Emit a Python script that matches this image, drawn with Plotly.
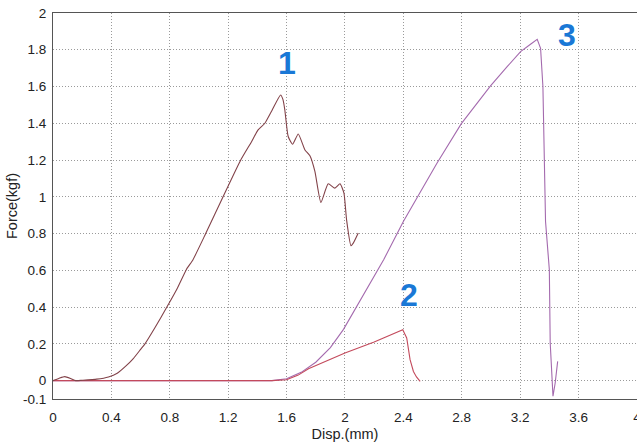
import plotly.graph_objects as go

# Curve 1 (brown)
c1_x = [0, 0.04, 0.08, 0.12, 0.155, 0.2, 0.3, 0.38, 0.44, 0.5, 0.55, 0.6, 0.63, 0.7, 0.78, 0.85,
        0.914, 0.959, 1.046, 1.165, 1.286, 1.36, 1.405, 1.451, 1.5, 1.559, 1.575, 1.588, 1.611,
        1.641, 1.68, 1.726, 1.76, 1.794, 1.835, 1.885, 1.931, 1.966, 1.993, 2.011, 2.041, 2.057, 2.091]
c1_y = [0, 0.012, 0.022, 0.012, 0.0, 0.002, 0.008, 0.02, 0.04, 0.08, 0.12, 0.17, 0.2, 0.29, 0.4, 0.5,
        0.605, 0.658, 0.8, 1.0, 1.2, 1.3, 1.364, 1.40, 1.47, 1.554, 1.53, 1.473, 1.328,
        1.286, 1.342, 1.255, 1.223, 1.138, 0.969, 1.071, 1.047, 1.071, 1.02, 0.875, 0.734, 0.748, 0.803]

# Curve 2 (red)
c2_x = [0, 0.2, 1.0, 1.5, 1.6, 1.68, 1.75, 1.85, 2.0, 2.2, 2.396, 2.423, 2.446, 2.469, 2.49, 2.515]
c2_y = [0, 0, 0, 0.0, 0.005, 0.03, 0.065, 0.1, 0.15, 0.21, 0.277, 0.232, 0.114, 0.05, 0.02, -0.004]

# Curve 3 (purple)
c3_x = [0, 0.2, 1.0, 1.5, 1.6, 1.7, 1.8, 1.9, 1.99, 2.15, 2.266, 2.40, 2.63, 2.796, 2.997, 3.111,
        3.203, 3.271, 3.317, 3.34, 3.356, 3.374, 3.40, 3.406, 3.418, 3.425, 3.44, 3.457]
c3_y = [0, 0, 0, 0, 0.01, 0.045, 0.1, 0.18, 0.279, 0.496, 0.659, 0.866, 1.183, 1.397, 1.603, 1.708,
        1.79, 1.83, 1.857, 1.808, 1.60, 0.866, 0.603, 0.205, -0.031, -0.085, -0.013, 0.105]

x_ticks = [0, 0.4, 0.8, 1.2, 1.6, 2.0, 2.4, 2.8, 3.2, 3.6, 4.0]
x_tick_text = ["0", "0.4", "0.8", "1.2", "1.6", "2", "2.4", "2.8", "3.2", "3.6", "4"]
y_ticks = [-0.1, 0, 0.2, 0.4, 0.6, 0.8, 1.0, 1.2, 1.4, 1.6, 1.8, 2.0]
y_tick_text = ["-0.1", "0", "0.2", "0.4", "0.6", "0.8", "1", "1.2", "1.4", "1.6", "1.8", "2"]

labels = ["1", "2", "3"]
label_x = [1.6, 2.44, 3.52]
label_y = [1.73, 0.465, 1.88]

fig = go.Figure()
fig.add_trace(go.Scatter(x=c3_x, y=c3_y, mode="lines", line=dict(color="#a46aae", width=1.1)))
fig.add_trace(go.Scatter(x=c2_x, y=c2_y, mode="lines", line=dict(color="#c34a5c", width=1.1)))
fig.add_trace(go.Scatter(x=c1_x, y=c1_y, mode="lines",
                         line=dict(color="#824249", width=1.1, shape="spline", smoothing=0.5)))

for t, xx, yy in zip(labels, label_x, label_y):
    fig.add_annotation(x=xx, y=yy, text="<b>" + t + "</b>", showarrow=False,
                       font=dict(family="Liberation Sans", size=32, color="#1a78d6"))

axis_font = dict(family="Liberation Sans", size=13.5, color="#222222")
fig.update_layout(
    width=637, height=446,
    margin=dict(l=53, r=0, t=13, b=47),
    paper_bgcolor="white", plot_bgcolor="white",
    showlegend=False,
    font=dict(family="Liberation Sans"),
)
fig.update_xaxes(
    range=[0, 4.0005], tickvals=x_ticks, ticktext=x_tick_text, tickfont=axis_font,
    ticklabeloverflow="allow",
    showgrid=True, gridcolor="#9a9a9a", griddash="1px,2px", gridwidth=1,
    showline=True, linecolor="#555555", linewidth=1, mirror=True, zeroline=False,
    ticks="outside", ticklen=6, tickcolor="rgba(0,0,0,0)", automargin=False,
    title=dict(text="Disp.(mm)", font=dict(family="Liberation Sans", size=14.5, color="#222222"), standoff=4),
)
fig.update_yaxes(
    range=[-0.1, 2], tickvals=y_ticks, ticktext=y_tick_text, tickfont=axis_font,
    ticklabeloverflow="allow",
    showgrid=True, gridcolor="#9a9a9a", griddash="1px,2px", gridwidth=1,
    showline=True, linecolor="#555555", linewidth=1, mirror=True, zeroline=False,
    ticks="outside", ticklen=3, tickcolor="rgba(0,0,0,0)", automargin=False,
    title=dict(text="Force(kgf)", font=dict(family="Liberation Sans", size=14.5, color="#222222"), standoff=1),
)
fig.write_html("out.html", config={"displayModeBar": False},
               post_script="document.body.style.margin='0';")
